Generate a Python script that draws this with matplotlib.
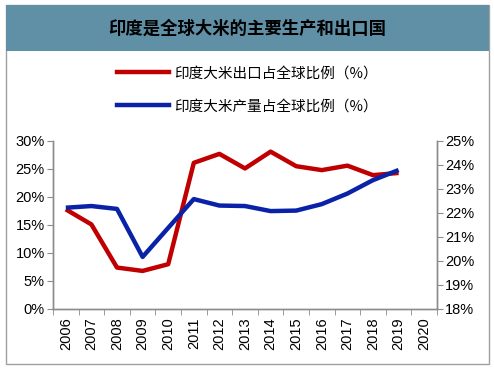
import matplotlib
matplotlib.use("Agg")
import matplotlib.pyplot as plt
from matplotlib.patches import Rectangle
from matplotlib.ticker import FuncFormatter, MultipleLocator
from matplotlib.lines import Line2D
import numpy as np

years = [str(y) for y in range(2006, 2021)]
export_share = [17.8, 15.1, 7.4, 6.8, 8.0, 26.1, 27.7, 25.1, 28.1, 25.5, 24.8, 25.6, 23.9, 24.3]
prod_share = [22.22, 22.29, 22.17, 20.17, 21.38, 22.58, 22.31, 22.29, 22.08, 22.10, 22.37, 22.81, 23.37, 23.79]
title = "印度是全球大米的主要生产和出口国"
legend_labels = ["印度大米出口占全球比例（%）", "印度大米产量占全球比例（%）"]

RED = "#c00000"
BLUE = "#0a22a8"
GRID = "#8c8c8c"

plt.rcParams['font.family'] = ['Liberation Sans', 'Noto Sans CJK SC', 'DejaVu Sans']

fig = plt.figure(figsize=(4.94, 3.70), dpi=100)
fig.patch.set_facecolor("white")
fig.patches.append(Rectangle((6/494, 1-364/370), 483/494, 359/370, transform=fig.transFigure,
                             facecolor="white", edgecolor="#a0a0a0", lw=1.0, zorder=-3))
fig.patches.append(Rectangle((6/494, 1-51/370), 483/494, 46/370, transform=fig.transFigure,
                             facecolor="#5f90a6", edgecolor="none", zorder=-2))
fig.text(247/494, 1-29/370, title, ha="center", va="center", fontsize=12.5, fontweight="bold",
         family=['Noto Sans CJK SC', 'DejaVu Sans'], color="black")

ax = fig.add_axes([53/494, 1-309/370, 384/494, 168/370])
ax2 = ax.twinx()

x = np.arange(len(years))
ax.plot(x[:len(export_share)], export_share, color=RED, lw=3.2, solid_capstyle="butt", zorder=3)
ax2.plot(x[:len(prod_share)], prod_share, color=BLUE, lw=3.2, solid_capstyle="butt", zorder=3)

ax.set_xlim(-0.5, len(years) - 0.5)
ax.set_ylim(0, 30)
ax2.set_ylim(18, 25)
ax.yaxis.set_major_locator(MultipleLocator(5))
ax2.yaxis.set_major_locator(MultipleLocator(1))
ax.yaxis.set_major_formatter(FuncFormatter(lambda v, p: f"{v:.0f}%"))
ax2.yaxis.set_major_formatter(FuncFormatter(lambda v, p: f"{v:.0f}%"))

ax.set_xticks(x)
ax.set_xticklabels(years, rotation=90)
ax.set_xticks(np.arange(-0.5, len(years)), minor=True)
ax.tick_params(axis="x", which="major", length=0, pad=6, labelsize=10.5)
ax.tick_params(axis="x", which="minor", length=4, color=GRID, direction="out")
ax.tick_params(axis="y", length=4, color=GRID, labelsize=10.5, pad=2)
ax2.tick_params(axis="y", length=4, color=GRID, labelsize=10.5, pad=2)

for a in (ax, ax2):
    a.spines["top"].set_visible(False)
    for s in ("left", "right", "bottom"):
        a.spines[s].set_color(GRID)
        a.spines[s].set_linewidth(1.0)
ax.patch.set_alpha(0)
ax2.patch.set_alpha(0)

handles = [Line2D([], [], color=RED, lw=3.2), Line2D([], [], color=BLUE, lw=3.2)]
fig.legend(handles, legend_labels, loc="center", bbox_to_anchor=(247/494, 1-90/370),
           frameon=False, ncol=1, handlelength=3.6, handletextpad=0.3, labelspacing=1.3,
           prop={"family": ['Noto Sans CJK SC', 'DejaVu Sans'], "size": 10.5})

fig.savefig("out.png", dpi=100)
